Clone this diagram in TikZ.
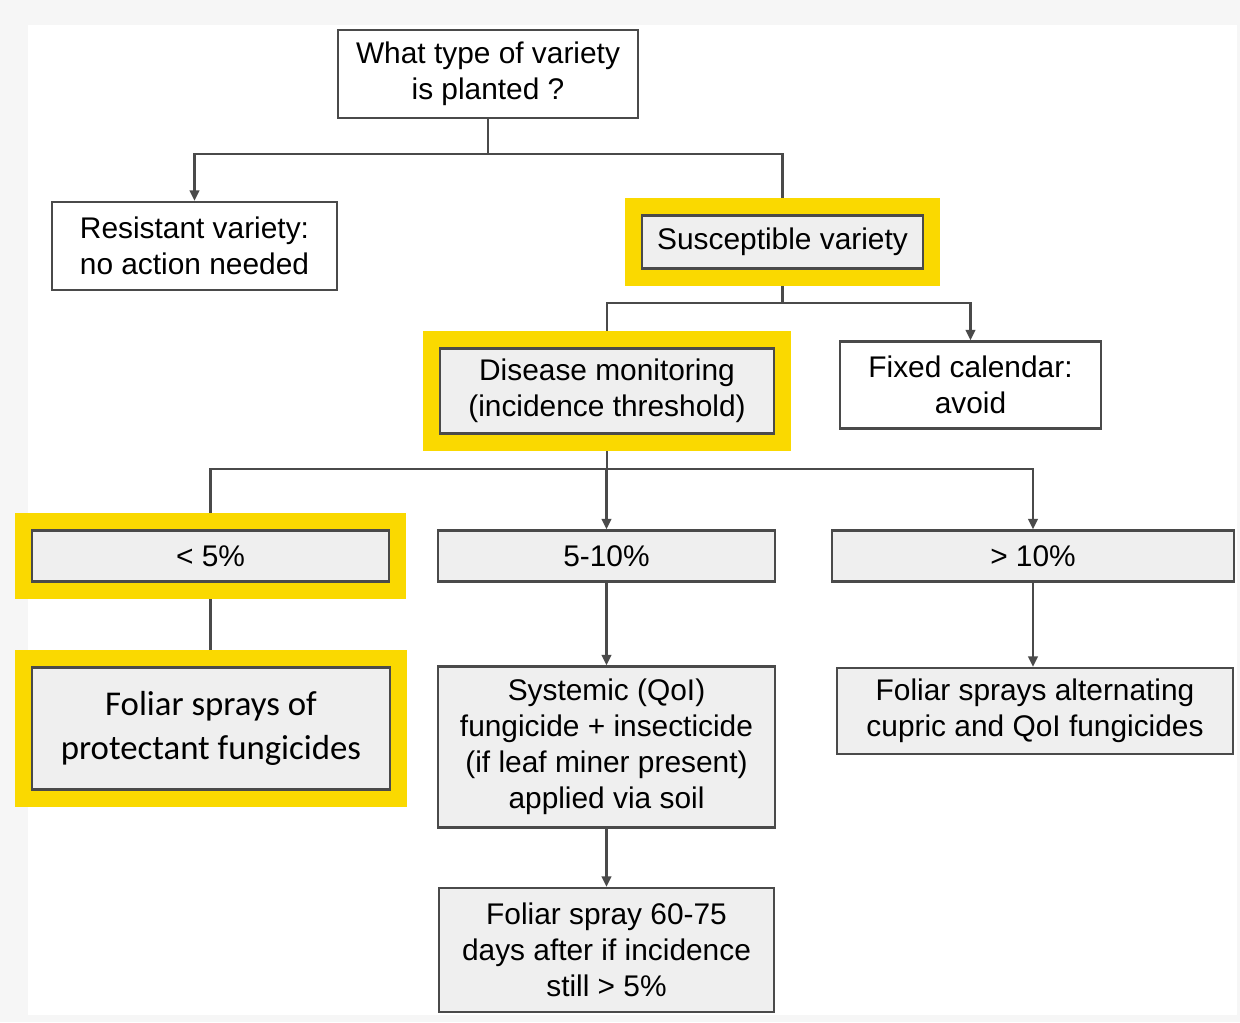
\documentclass[tikz,border=0pt]{standalone}
\usepackage{fontspec}
\setmainfont{Liberation Sans}
\newfontfamily\carlito{Carlito}
\usetikzlibrary{arrows.meta,calc}
\definecolor{hlyellow}{HTML}{FAD900}
\definecolor{linegray}{HTML}{4A4A4A}
\definecolor{boxgray}{HTML}{EFEFEF}
\definecolor{pagegray}{HTML}{F6F6F6}
\pgfdeclarelayer{bg}
\pgfdeclarelayer{lines}
\pgfdeclarelayer{hl}
\pgfsetlayers{bg,lines,hl,main}

\begin{document}
\begin{tikzpicture}[x=0.02cm, y=-0.02cm,
    box/.style={draw=linegray, line width=1.3pt, fill=white, align=center, inner sep=0pt,
        font=\fontsize{17}{20.5}\selectfont},
    gbox/.style={box, fill=boxgray},
    sz/.style 2 args={minimum width=#1*0.02cm, minimum height=#2*0.02cm},
    arr/.style={draw=linegray, line width=1.3pt, -{Triangle[width=5.5pt,length=6pt]}}]
    \useasboundingbox (0,0) rectangle (1240,1022);
    \begin{pgfonlayer}{bg}
        \fill[pagegray] (0,0) rectangle (1240,1022);
        \fill[white] (28,25) rectangle (1237,1015);
    \end{pgfonlayer}

    \node[box, sz={300}{88}] (what) at (488,74) {What type of variety\\is planted ?};
    \node[box, sz={285}{88}] (res) at (194.5,246) {Resistant variety:\\no action needed};
    \node[gbox, sz={281}{53}] (sus) at (782.5,242) {Susceptible variety};
    \node[gbox, sz={334}{85}] (mon) at (607,391) {Disease monitoring\\(incidence threshold)};
    \node[box, sz={261}{87}] (cal) at (970.5,385) {Fixed calendar:\\avoid};
    \node[gbox, sz={357}{51}] (low) at (210.5,556) {< 5\%};
    \node[gbox, sz={337}{51}] (mid) at (606.5,556) {5-10\%};
    \node[gbox, sz={402}{51}] (high) at (1033,556) {> 10\%};
    \node[gbox, sz={358}{122}, font=\carlito\fontsize{19.8}{25}\selectfont] (prot) at (211,728.5)
        {Foliar sprays of\\protectant fungicides};
    \node[gbox, sz={337}{161}] (sys) at (606.5,747)
        {Systemic (QoI)\\fungicide + insecticide\\(if leaf miner present)\\applied via soil};
    \node[gbox, sz={396}{86}] (alt) at (1035,711) {Foliar sprays alternating\\cupric and QoI fungicides};
    \node[gbox, sz={335}{124}] (late) at (606.5,950)
        {Foliar spray 60-75\\days after if incidence\\still > 5\%};

    \begin{pgfonlayer}{hl}
        \foreach \n in {sus,mon,low,prot}
            \fill[hlyellow] ($(\n.north west)+(-16,-16)$) rectangle ($(\n.south east)+(16,16)$);
    \end{pgfonlayer}

    \begin{pgfonlayer}{lines}
        \draw[arr] (what.south) -- ++(0,35) -| (res.north);
        \draw[arr] (what.south) -- ++(0,35) -| (sus.north);
        \draw[arr] (sus.south) -- ++(0,33) -| (mon.north);
        \draw[arr] (sus.south) -- ++(0,33) -| (cal.north);
        \foreach \n in {low,mid,high}
            \draw[arr] (mon.south) -- ++(0,34) -| (\n.north);
        \draw[arr] (low.south) -- (low.south |- prot.north);
        \draw[arr] (mid.south) -- (mid.south |- sys.north);
        \draw[arr] (sys.south) -- (sys.south |- late.north);
        \draw[arr] (high.south) -- (high.south |- alt.north);
    \end{pgfonlayer}
\end{tikzpicture}
\end{document}
